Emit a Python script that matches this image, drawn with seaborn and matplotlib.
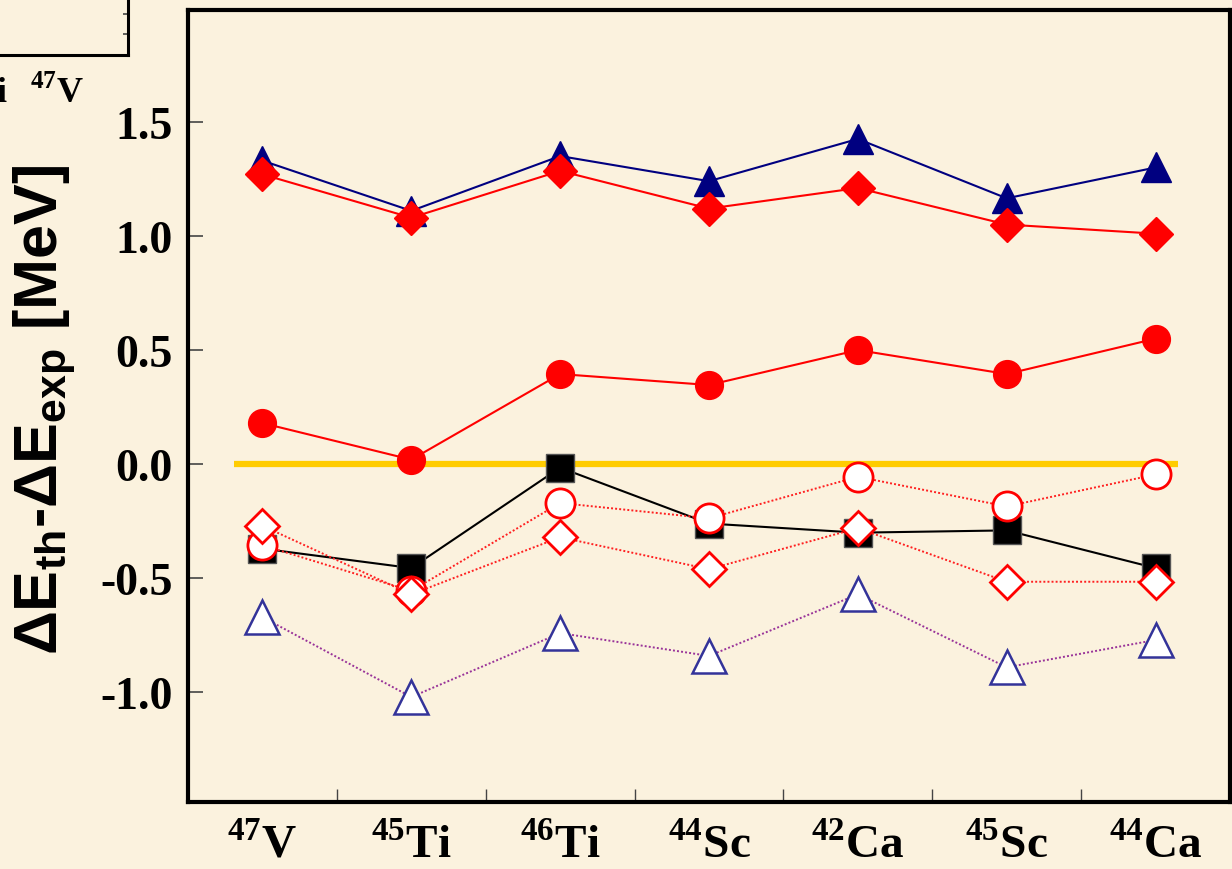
import numpy as np
import matplotlib
matplotlib.use("Agg")
import matplotlib.pyplot as plt
import seaborn as sns

# ---------------- data ----------------
mass_numbers = ["47", "45", "46", "44", "42", "45", "44"]
elements = ["V", "Ti", "Ti", "Sc", "Ca", "Sc", "Ca"]
ytick_values = [-1.0, -0.5, 0.0, 0.5, 1.0, 1.5]
ytick_labels = ["-1.0", "-0.5", "0.0", "0.5", "1.0", "1.5"]

filled_triangle = [1.33, 1.11, 1.35, 1.24, 1.425, 1.165, 1.30]
filled_diamond = [1.27, 1.08, 1.285, 1.12, 1.21, 1.05, 1.01]
filled_circle = [0.18, 0.02, 0.395, 0.347, 0.50, 0.395, 0.55]
filled_square = [-0.37, -0.455, -0.015, -0.26, -0.30, -0.29, -0.455]
open_circle = [-0.355, -0.555, -0.17, -0.237, -0.055, -0.185, -0.045]
open_diamond = [-0.27, -0.57, -0.32, -0.46, -0.28, -0.515, -0.515]
open_triangle = [-0.67, -1.02, -0.74, -0.84, -0.57, -0.89, -0.77]

# ---------------- style ----------------
sns.set_theme(style="white")
plt.rcParams["font.family"] = ["Liberation Serif", "DejaVu Sans"]
plt.rcParams["font.weight"] = "bold"
plt.rcParams["mathtext.fontset"] = "custom"
plt.rcParams["mathtext.rm"] = "Liberation Serif:bold"
plt.rcParams["mathtext.sf"] = "Liberation Sans:bold"
plt.rcParams["mathtext.bf"] = "Liberation Serif:bold"

BG = "#FBF2DE"
fig = plt.figure(figsize=(12.32, 8.70), dpi=100, facecolor=BG)
ax = fig.add_axes([188 / 1232, 1 - 803 / 870, (1230 - 188) / 1232, (803 - 11) / 870])
ax.set_facecolor(BG)

x = np.arange(len(elements))

# zero reference line
ax.hlines(0.0, -0.19, 6.15, color="#FFCC00", linewidth=4.5, zorder=2)

dot = (0, (1.0, 1.1))
series = [
    (filled_triangle, dict(color="#000080", marker="^", markersize=22, markerfacecolor="#000080",
                           markeredgecolor="#000080", markeredgewidth=1, linestyle="-", linewidth=1.5, zorder=3)),
    (filled_diamond, dict(color="#FF0000", marker="D", markersize=17.5, markerfacecolor="#FF0000",
                          markeredgecolor="#FF0000", markeredgewidth=1, linestyle="-", linewidth=1.5, zorder=4)),
    (filled_circle, dict(color="#FF0000", marker="o", markersize=20, markerfacecolor="#FF0000",
                         markeredgecolor="#FF0000", markeredgewidth=1, linestyle="-", linewidth=1.5, zorder=5)),
    (filled_square, dict(color="#000000", marker="s", markersize=20, markerfacecolor="#000000",
                         markeredgecolor="#555555", markeredgewidth=1, linestyle="-", linewidth=1.5, zorder=6)),
    (open_circle, dict(color="#FF2020", marker="o", markersize=21, markerfacecolor="white",
                       markeredgecolor="#FF0000", markeredgewidth=2, linestyle=dot, linewidth=1.4, zorder=7)),
    (open_diamond, dict(color="#FF2020", marker="D", markersize=17, markerfacecolor="white",
                        markeredgecolor="#FF0000", markeredgewidth=2, linestyle=dot, linewidth=1.4, zorder=8)),
    (open_triangle, dict(color="#993399", marker="^", markersize=25, markerfacecolor="white",
                         markeredgecolor="#333399", markeredgewidth=1.8, linestyle=dot, linewidth=1.4, zorder=9)),
]
for vals, style in series:
    sns.lineplot(x=x, y=vals, ax=ax, legend=False, errorbar=None, **style)

ax.set_xlim(-0.5, 6.5)
ax.set_ylim(-1.48, 1.99)

ax.set_xticks(x)
ax.set_xticklabels([r"$^{\mathrm{%s}}$%s" % (m, e) for m, e in zip(mass_numbers, elements)])
ax.set_xticks(np.arange(0.5, 6.0, 1.0), minor=True)
ax.set_yticks(ytick_values)
ax.set_yticklabels(ytick_labels)

ax.tick_params(axis="x", which="major", length=0, pad=15, labelsize=34, labelcolor="black")
ax.tick_params(axis="x", which="minor", direction="in", length=9.5, width=1.0, color="#444444",
               bottom=True, top=False)
ax.tick_params(axis="y", which="major", direction="in", length=11, width=1.2, color="#444444",
               pad=11, labelsize=33, labelcolor="black", left=True, right=False)
for lbl in ax.get_xticklabels() + ax.get_yticklabels():
    lbl.set_fontweight("bold")
    lbl.set_family(["Liberation Serif", "DejaVu Sans"])

for sp in ax.spines.values():
    sp.set_visible(True)
    sp.set_color("black")
    sp.set_linewidth(3)

fig.text(45 / 1232, 1 - 410 / 870, r"ΔE$_{\mathsf{th}}$-ΔE$_{\mathsf{exp}}$ [MeV]",
         rotation=90, ha="center", va="center", fontsize=44, fontweight="bold",
         family=["Liberation Sans", "DejaVu Sans"], color="black")

# ---------------- fragment of a neighbouring panel (top-left corner) ----------------
ax2 = fig.add_axes([-0.3, 1 - 56 / 870, 0.3 + 128 / 1232, 0.2])
ax2.set_facecolor(BG)
ax2.set_xlim(0, 1)
ax2.set_ylim(0, 1)
for side in ["left", "top"]:
    ax2.spines[side].set_visible(False)
for side in ["right", "bottom"]:
    ax2.spines[side].set_visible(True)
    ax2.spines[side].set_color("black")
    ax2.spines[side].set_linewidth(2.2)
ax2.yaxis.tick_right()
ax2.set_xticks([(47 + 0.3 * 1232) / ((0.3 + 128 / 1232) * 1232)])
ax2.set_yticks([21 / 174, 41 / 174])
ax2.tick_params(axis="x", direction="in", length=6, width=1.2, color="#444444", labelbottom=False)
ax2.tick_params(axis="y", direction="in", length=3.5, width=1.2, color="#444444", labelright=False, right=True)

fig.text(8 / 1232, 1 - 93 / 870, r"$^{\mathrm{46}}$Ti", ha="right", va="center", fontsize=26,
         fontweight="bold", family=["Liberation Serif", "DejaVu Sans"], color="black")
fig.text(57 / 1232, 1 - 93 / 870, r"$^{\mathrm{47}}$V", ha="center", va="center", fontsize=26,
         fontweight="bold", family=["Liberation Serif", "DejaVu Sans"], color="black")

fig.savefig("out.png", dpi=100, facecolor=BG)
